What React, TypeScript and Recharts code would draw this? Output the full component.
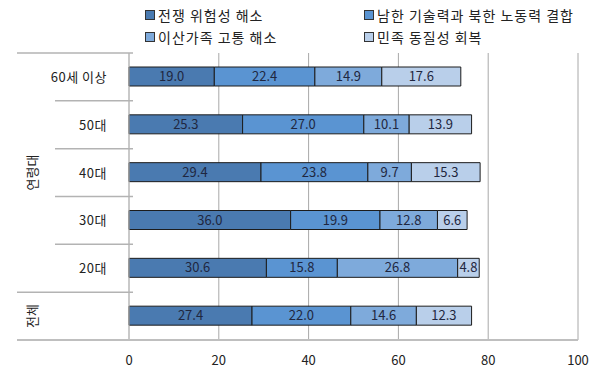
import React from 'react';
import { BarChart, Bar, XAxis, YAxis, CartesianGrid, LabelList } from 'recharts';

const categories = ['60세 이상', '50대', '40대', '30대', '20대', '전체'];
const warRisk = [19.0, 25.3, 29.4, 36.0, 30.6, 27.4];
const techLabor = [22.4, 27.0, 23.8, 19.9, 15.8, 22.0];
const families = [14.9, 10.1, 9.7, 12.8, 26.8, 14.6];
const identity = [17.6, 13.9, 15.3, 6.6, 4.8, 12.3];
const xTicks = [0, 20, 40, 60, 80, 100];

const SERIES = [
  { key: 'warRisk', name: '전쟁 위험성 해소', color: '#4a7ab0' },
  { key: 'techLabor', name: '남한 기술력과 북한 노동력 결합', color: '#5a94d2' },
  { key: 'families', name: '이산가족 고통 해소', color: '#7eaadb' },
  { key: 'identity', name: '민족 동질성 회복', color: '#b9cfea' },
];

const data = categories.map((name, i) => ({
  name,
  warRisk: warRisk[i],
  techLabor: techLabor[i],
  families: families[i],
  identity: identity[i],
}));

const FONT = '"Noto Sans CJK KR", "Noto Sans", sans-serif';
const BAND = (340 - 53) / 6;
const LINE = '#b3b3b3';

function CategoryTick(props: any) {
  const { x, y, payload, index } = props;
  const lowY = y + BAND / 2;
  const isLast = index === categories.length - 1;
  return (
    <g>
      {/* the 전체 row only carries the rotated group label */}
      {!isLast && (
        <text x={x - 14} y={y} dy={5} textAnchor="end" fontSize={13} fill="#222" fontFamily={FONT} letterSpacing={0.5}>
          {payload.value}
        </text>
      )}
      {index === 0 && <line x1={17} x2={133} y1={y - BAND / 2} y2={y - BAND / 2} stroke={LINE} strokeWidth={1.5} />}
      {!isLast && (
        <line x1={index === 4 ? 17 : 55} x2={133} y1={lowY} y2={lowY} stroke={LINE} strokeWidth={1.5} />
      )}
      {isLast && <line x1={17} x2={133} y1={lowY} y2={lowY} stroke="#bfbfbf" strokeWidth={2} />}
      {index === 2 && (
        <text x={32} y={y} transform={`rotate(-90 32 ${y})`} textAnchor="middle" dy={5} fontSize={13} fill="#222" fontFamily={FONT}>
          연령대
        </text>
      )}
      {isLast && (
        <text x={32} y={y} transform={`rotate(-90 32 ${y})`} textAnchor="middle" dy={5} fontSize={13} fill="#222" fontFamily={FONT}>
          전체
        </text>
      )}
    </g>
  );
}

function LegendItem({ name, color, left, top }: { name: string; color: string; left: number; top: number }) {
  return (
    <div style={{ position: 'absolute', left, top, display: 'flex', alignItems: 'center', fontFamily: FONT, fontSize: 14, letterSpacing: 1, color: '#222', whiteSpace: 'nowrap' }}>
      <span style={{ display: 'inline-block', width: 8, height: 8, background: color, border: '1px solid #333', marginRight: 3 }} />
      {name}
    </div>
  );
}

export default function App() {
  const legendPos = [
    { left: 145, top: 5 },
    { left: 364, top: 5 },
    { left: 145, top: 27 },
    { left: 364, top: 27 },
  ];
  return (
    <div style={{ position: 'absolute', left: 0, top: 0, width: 602, height: 372, background: '#fff' }}>
      {SERIES.map((s, i) => (
        <LegendItem key={s.key} name={s.name} color={s.color} left={legendPos[i].left} top={legendPos[i].top} />
      ))}
      <BarChart
        width={602}
        height={372}
        data={data}
        layout="vertical"
        margin={{ top: 53, right: 24, bottom: 2, left: 0 }}
        barSize={19}
      >
        <CartesianGrid horizontal={false} stroke="#a8a8a8" />
        <XAxis
          type="number"
          domain={[0, 100]}
          ticks={xTicks}
          height={30}
          axisLine={{ stroke: '#bfbfbf', strokeWidth: 2 }}
          tickLine={false}
          tickMargin={10}
          tick={{ fontSize: 13, fill: '#222', fontFamily: FONT }}
        />
        <YAxis
          type="category"
          dataKey="name"
          width={129}
          axisLine={{ stroke: '#bfbfbf' }}
          tickLine={false}
          tick={<CategoryTick />}
        />
        {SERIES.map((s) => (
          <Bar key={s.key} dataKey={s.key} stackId="a" fill={s.color} stroke="#1c1c1c" strokeWidth={1} isAnimationActive={false}>
            <LabelList
              dataKey={s.key}
              position="center"
              fontSize={13}
              fill="#1f2740"
              fontFamily={FONT}
              formatter={(v: any) => Number(v).toFixed(1)}
            />
          </Bar>
        ))}
      </BarChart>
    </div>
  );
}
